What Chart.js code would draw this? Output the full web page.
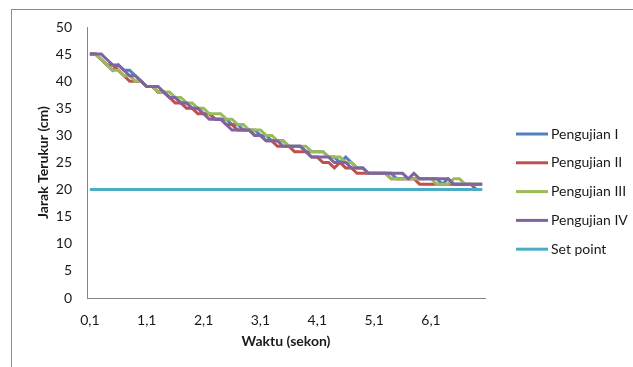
<!DOCTYPE html>
<html>
<head>
<meta charset="utf-8">
<script src="https://cdn.jsdelivr.net/npm/chart.js@4.4.1/dist/chart.umd.min.js"></script>
<style>
    html, body { margin: 0; padding: 0; background: #fff; }
    #wrap { position: relative; width: 633px; height: 367px; overflow: hidden; }
    #frame { position: absolute; left: 11px; top: 9px; width: 700px; height: 500px; border: 1px solid #8c8c8c; box-sizing: border-box; }
    #myChart { position: absolute; left: 0; top: 0; }
</style>
</head>
<body>
<div id="wrap">
    <div id="frame"></div>
    <canvas id="myChart" width="633" height="367"></canvas>
</div>
<script>
// waktu (sekon)
const timeLabels = [
    '0,1', '0,2', '0,3', '0,4', '0,5', '0,6', '0,7', '0,8', '0,9', '1,0',
    '1,1', '1,2', '1,3', '1,4', '1,5', '1,6', '1,7', '1,8', '1,9', '2,0',
    '2,1', '2,2', '2,3', '2,4', '2,5', '2,6', '2,7', '2,8', '2,9', '3,0',
    '3,1', '3,2', '3,3', '3,4', '3,5', '3,6', '3,7', '3,8', '3,9', '4,0',
    '4,1', '4,2', '4,3', '4,4', '4,5', '4,6', '4,7', '4,8', '4,9', '5,0',
    '5,1', '5,2', '5,3', '5,4', '5,5', '5,6', '5,7', '5,8', '5,9', '6,0',
    '6,1', '6,2', '6,3', '6,4', '6,5', '6,6', '6,7', '6,8', '6,9', '7,0'
];

// jarak terukur (cm)
const pengujian1 = [
    45, 45, 44, 43, 42, 43, 42, 42, 41, 40,
    39, 39, 38, 38, 37, 37, 36, 36, 35, 35,
    34, 34, 33, 33, 33, 32, 32, 31, 31, 31,
    30, 30, 29, 29, 29, 28, 28, 28, 27, 27,
    27, 27, 26, 26, 25, 26, 25, 24, 24, 23,
    23, 23, 23, 23, 22, 22, 22, 22, 22, 22,
    22, 22, 21, 22, 21, 21, 21, 21, 21, 21
];
const pengujian2 = [
    45, 45, 44, 43, 43, 42, 41, 40, 40, 40,
    39, 39, 38, 38, 37, 36, 36, 35, 35, 34,
    34, 34, 33, 33, 32, 32, 31, 31, 31, 30,
    30, 29, 29, 28, 28, 28, 27, 27, 27, 26,
    26, 25, 25, 24, 25, 24, 24, 23, 23, 23,
    23, 23, 23, 22, 22, 22, 22, 22, 21, 21,
    21, 21, 21, 21, 21, 21, 21, 21, 20, 20
];
const pengujian3 = [
    45, 45, 44, 43, 42, 42, 41, 41, 40, 40,
    39, 39, 38, 38, 38, 37, 37, 36, 36, 35,
    35, 34, 34, 34, 33, 33, 32, 32, 31, 31,
    31, 30, 30, 29, 29, 28, 28, 28, 28, 27,
    27, 27, 26, 26, 26, 25, 25, 24, 24, 23,
    23, 23, 23, 22, 22, 22, 22, 22, 22, 22,
    22, 21, 21, 21, 22, 22, 21, 21, 21, 21
];
const pengujian4 = [
    45, 45, 45, 44, 43, 43, 42, 41, 41, 40,
    39, 39, 39, 38, 37, 37, 36, 36, 35, 35,
    34, 33, 33, 33, 32, 31, 31, 31, 31, 30,
    30, 29, 29, 29, 28, 28, 28, 28, 27, 26,
    26, 26, 26, 25, 25, 25, 24, 24, 24, 23,
    23, 23, 23, 23, 23, 23, 22, 23, 22, 22,
    22, 22, 22, 22, 21, 21, 21, 21, 21, 21
];
const setPoint = [
    20, 20, 20, 20, 20, 20, 20, 20, 20, 20,
    20, 20, 20, 20, 20, 20, 20, 20, 20, 20,
    20, 20, 20, 20, 20, 20, 20, 20, 20, 20,
    20, 20, 20, 20, 20, 20, 20, 20, 20, 20,
    20, 20, 20, 20, 20, 20, 20, 20, 20, 20,
    20, 20, 20, 20, 20, 20, 20, 20, 20, 20,
    20, 20, 20, 20, 20, 20, 20, 20, 20, 20
];

const seriesNames = ['Pengujian I', 'Pengujian II', 'Pengujian III', 'Pengujian IV', 'Set point'];
const seriesColors = ['#4F81BD', '#C0504D', '#9BBB59', '#8064A2', '#4BACC6'];
const seriesData = [pengujian1, pengujian2, pengujian3, pengujian4, setPoint];

const fontFamily = 'Lato, "Liberation Sans", sans-serif';
const textColor = '#1a1a1a';
const axisColor = '#868686';

// legend drawn by hand, Excel style (line sample + text)
const sideLegend = {
    id: 'sideLegend',
    afterDraw(chart) {
        const c = chart.ctx;
        c.save();
        c.font = '14px ' + fontFamily;
        c.fillStyle = textColor;
        c.textBaseline = 'middle';
        chart.data.datasets.forEach(function (ds, i) {
            const y = 134 + i * 28.8;
            c.strokeStyle = ds.borderColor;
            c.lineWidth = 3;
            c.beginPath();
            c.moveTo(516, y);
            c.lineTo(548, y);
            c.stroke();
            c.fillText(ds.label, 551, y);
        });
        c.restore();
    }
};

const ctx = document.getElementById('myChart');
let myChart = new Chart(ctx, {
    type: 'line',
    data: {
        labels: timeLabels,
        datasets: seriesData.map(function (vals, i) {
            return {
                label: seriesNames[i],
                data: vals,
                borderColor: seriesColors[i],
                backgroundColor: seriesColors[i],
                borderWidth: 3,
                pointRadius: 0,
                tension: 0,
                order: seriesData.length - i
            };
        })
    },
    options: {
        responsive: false,
        animation: false,
        layout: {padding: {left: 20, top: 27, right: 148, bottom: 10}},
        plugins: {
            legend: {display: false},
            tooltip: {enabled: false}
        },
        scales: {
            x: {
                offset: true,
                grid: {display: false, drawTicks: false},
                border: {display: true, color: axisColor, width: 1},
                ticks: {
                    autoSkip: false,
                    maxRotation: 0,
                    padding: 14,
                    color: textColor,
                    font: {family: fontFamily, size: 14},
                    callback: function (v, i) {
                        return i % 10 === 0 ? timeLabels[i] : '';
                    }
                },
                title: {
                    display: true,
                    text: 'Waktu (sekon)',
                    color: textColor,
                    font: {family: fontFamily, size: 14, weight: 'bold'},
                    padding: {top: -10.2, bottom: 7.6}
                }
            },
            y: {
                min: 0,
                max: 50,
                ticks: {
                    stepSize: 5,
                    padding: 15,
                    color: textColor,
                    font: {family: fontFamily, size: 14}
                },
                grid: {display: false, drawTicks: false},
                border: {display: true, color: axisColor, width: 1},
                title: {
                    display: true,
                    text: 'Jarak Terukur (cm)',
                    color: textColor,
                    font: {family: fontFamily, size: 14, weight: 'bold'},
                    padding: {top: 14.6, bottom: -10.6}
                }
            }
        }
    },
    plugins: [sideLegend]
});
</script>
</body>
</html>
